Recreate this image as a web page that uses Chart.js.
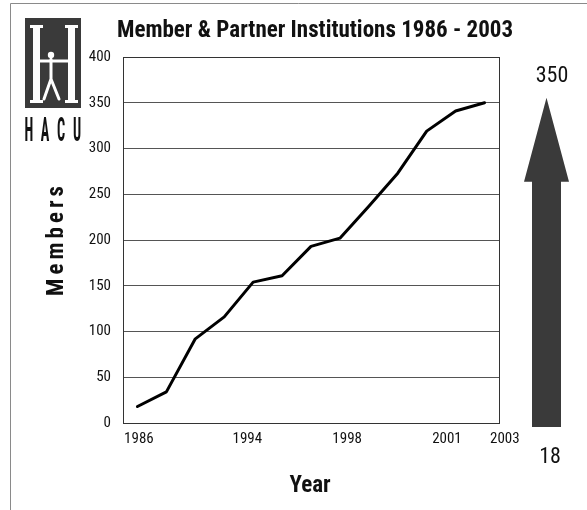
<!DOCTYPE html>
<html lang="en">
<head>
  <meta charset="UTF-8" />
  <title>Member & Partner Institutions 1986 - 2003</title>
  <script src="https://cdn.jsdelivr.net/npm/chart.js"></script>
  <style>
    body {
      margin: 0;
      background: #ffffff;
    }
    .wrap {
      position: relative;
      width: 587px;
      height: 510px;
    }
  </style>
</head>
<body>
  <div class="wrap">
    <canvas id="membersChart" width="587" height="510"></canvas>
  </div>

  <script>
    // values (13 points, 1986 -> 2003)
    const members = [18, 34, 92, 116, 154, 161, 193, 202, 237, 273, 319, 341, 350];
    const yearLabels = ['1986', '1994', '1998', '2001', '2003'];
    const yearTickAt = [0.05, 3.8, 7.25, 10.7, 12.7]; // where each year label sits on the x scale
    const yTicks = [0, 50, 100, 150, 200, 250, 300, 350, 400];

    const FONT = '"Roboto Condensed", "Liberation Sans", Arial, sans-serif';

    const points = members.map((v, i) => ({ x: i, y: v }));

    // frame, titles, arrow, logo
    const decorations = {
      id: 'decorations',
      afterDraw(chart) {
        const ctx = chart.ctx;
        const area = chart.chartArea;
        const y = chart.scales.y;
        ctx.save();

        // outer page frame (left + top)
        ctx.strokeStyle = '#8a8a8a';
        ctx.lineWidth = 1;
        ctx.beginPath();
        ctx.moveTo(10.5, 510);
        ctx.lineTo(10.5, 3.5);
        ctx.lineTo(587, 3.5);
        ctx.stroke();

        // plot box
        ctx.strokeStyle = '#333';
        ctx.strokeRect(area.left + 0.5, area.top + 0.5, area.right - area.left, area.bottom - area.top);

        // title
        ctx.fillStyle = '#111';
        ctx.textAlign = 'center';
        ctx.textBaseline = 'alphabetic';
        ctx.font = 'bold 23px ' + FONT;
        ctx.fillText('Member & Partner Institutions 1986 - 2003', 315, 37);

        // axis titles
        ctx.font = 'bold 23px ' + FONT;
        ctx.fillText('Year', 310, 492);
        ctx.save();
        ctx.translate(57, 241);
        ctx.rotate(-Math.PI / 2);
        ctx.letterSpacing = '4px';
        ctx.textBaseline = 'middle';
        ctx.fillText('Members', 2, 0);
        ctx.restore();

        // growth arrow, first -> last value
        const cx = 546.5;
        const tip = y.getPixelForValue(members[members.length - 1]) - 5;
        const base = y.getPixelForValue(0) + 4;
        const headH = 84;
        ctx.fillStyle = '#3a3a3a';
        ctx.beginPath();
        ctx.moveTo(cx, tip);
        ctx.lineTo(cx + 22.5, tip + headH);
        ctx.lineTo(cx + 14.5, tip + headH);
        ctx.lineTo(cx + 14.5, base);
        ctx.lineTo(cx - 14.5, base);
        ctx.lineTo(cx - 14.5, tip + headH);
        ctx.lineTo(cx - 22.5, tip + headH);
        ctx.closePath();
        ctx.fill();

        ctx.fillStyle = '#111';
        ctx.font = '22px ' + FONT;
        ctx.textBaseline = 'middle';
        ctx.fillText(String(members[members.length - 1]), 552, 76);
        ctx.fillText(String(members[0]), 550, 457);

        // HACU logo
        ctx.fillStyle = '#3a3a3a';
        ctx.fillRect(25, 18, 56, 90);
        ctx.fillStyle = '#ffffff';
        // left bar of the H
        ctx.fillRect(33, 26, 7, 77);
        ctx.fillRect(30, 25, 13, 3);
        ctx.fillRect(30, 100, 13, 3);
        // right bar
        ctx.fillRect(68, 26, 7, 77);
        ctx.fillRect(65, 25, 13, 3);
        ctx.fillRect(65, 100, 13, 3);
        // figure
        ctx.beginPath();
        ctx.arc(51, 55, 3.2, 0, Math.PI * 2);
        ctx.fill();
        ctx.strokeStyle = '#ffffff';
        ctx.lineCap = 'round';
        ctx.lineWidth = 3;
        ctx.beginPath();
        ctx.moveTo(40, 61); ctx.lineTo(68, 61);
        ctx.moveTo(51, 59); ctx.lineTo(51, 80);
        ctx.moveTo(51, 79); ctx.lineTo(44, 99);
        ctx.moveTo(51, 79); ctx.lineTo(59, 99);
        ctx.stroke();

        ctx.fillStyle = '#111';
        ctx.font = 'bold 34px ' + FONT;
        ctx.textBaseline = 'alphabetic';
        ['H', 'A', 'C', 'U'].forEach((ch, i) => {
          ctx.save();
          ctx.translate(29 + i * 16, 141);
          ctx.scale(0.42, 1);
          ctx.fillText(ch, 0, 0);
          ctx.restore();
        });

        ctx.restore();
      }
    };

    new Chart(document.getElementById('membersChart'), {
      type: 'line',
      data: {
        datasets: [{
          label: 'Members',
          data: points,
          borderColor: '#000000',
          borderWidth: 3,
          pointRadius: 0,
          tension: 0,
          borderJoinStyle: 'round',
          borderCapStyle: 'round'
        }]
      },
      options: {
        responsive: false,
        animation: false,
        layout: { padding: { top: 57, right: 88, left: 0, bottom: 0 } },
        plugins: {
          legend: { display: false },
          title: { display: false },
          tooltip: { enabled: false }
        },
        scales: {
          x: {
            type: 'linear',
            min: -0.5,
            max: 12.5,
            afterFit: s => { s.height = 87; },
            afterBuildTicks: s => { s.ticks = yearTickAt.map(v => ({ value: v })); },
            grid: { display: false, drawTicks: false },
            border: { display: true, color: '#333' },
            ticks: {
              padding: 7,
              color: '#111',
              font: { family: FONT, size: 15 },
              maxRotation: 0,
              autoSkip: false,
              callback: (v, i) => yearLabels[i]
            }
          },
          y: {
            min: 0,
            max: 400,
            afterFit: s => { s.width = 123; },
            afterBuildTicks: s => { s.ticks = yTicks.map(v => ({ value: v })); },
            grid: { color: '#555', lineWidth: 1, drawTicks: false },
            border: { display: true, color: '#333' },
            ticks: {
              padding: 12,
              color: '#111',
              font: { family: FONT, size: 15 }
            }
          }
        }
      },
      plugins: [decorations]
    });
  </script>
</body>
</html>
